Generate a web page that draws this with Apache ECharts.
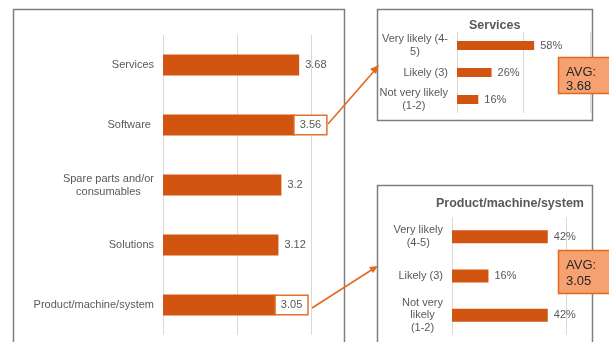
<!DOCTYPE html>
<html><head><meta charset="utf-8">
<script src="https://cdn.jsdelivr.net/npm/echarts@6/dist/echarts.min.js"></script>
<style>html,body{margin:0;padding:0;background:#fff}#c{width:609px;height:342px}</style>
</head><body><div id="c"></div>
<script>
const mainCategories = ['Services', 'Software ', 'Spare parts and/or\nconsumables', 'Solutions', 'Product/machine/system'];
const mainValues = [3.68, 3.56, 3.2, 3.12, 3.05];
const mainTicks = [0, 2, 4];
const servicesCategories = ['Very likely (4-\n5)', 'Likely (3)', 'Not very likely\n(1-2)'];
const servicesValues = [58, 26, 16];
const servicesAvg = '3.68';
const productCategories = ['Very likely\n(4-5)', 'Likely (3)', 'Not very\nlikely\n(1-2)'];
const productValues = [42, 16, 42];
const productAvg = '3.05';

const BAR = '#D25411';
const TXT = '#595959';
const FONT = 'Liberation Sans, Arial, sans-serif';
const chart = echarts.init(document.getElementById('c'), null, {renderer: 'canvas'});

const boxed = {show: true, position: 'right', distance: 0, color: TXT, fontSize: 11, fontFamily: FONT,
  borderColor: '#E0712E', borderWidth: 1.5, backgroundColor: '#fff', padding: [4, 5, 3, 5]};

function catAxis(gi, cats, lh) {
  return {type: 'category', gridIndex: gi, data: cats, inverse: true,
    axisLine: {show: false}, axisTick: {show: false},
    axisLabel: {color: TXT, fontSize: 11, fontFamily: FONT, margin: 9, align: 'right',
      formatter: v => v.split('\n').map(l => '{c|' + l + '}').join('\n'),
      rich: {c: {align: 'center', color: TXT, fontSize: 11, fontFamily: FONT, lineHeight: lh}}}};
}
function valAxis(gi, max, interval) {
  return {type: 'value', gridIndex: gi, min: 0, max: max, interval: interval,
    axisLabel: {show: false}, axisLine: {show: false}, axisTick: {show: false},
    splitLine: {show: true, lineStyle: {color: '#D9D9D9', width: 1}}};
}

chart.setOption({
  animation: false,
  textStyle: {fontFamily: FONT},
  grid: [
    {left: 163, right: 298, top: 35, bottom: 7},
    {left: 457, right: 19, top: 32, bottom: 229},
    {left: 452, right: 43, top: 217, bottom: 7}
  ],
  xAxis: [valAxis(0, 4, 2), valAxis(1, 100, 50), valAxis(2, 50, 50)],
  yAxis: [catAxis(0, mainCategories, 13), catAxis(1, servicesCategories, 13), catAxis(2, productCategories, 12.5)],
  series: [
    {type: 'bar', xAxisIndex: 0, yAxisIndex: 0, barWidth: 21, itemStyle: {color: BAR},
      data: mainValues.map((v, i) => (i === 1 || i === 4) ? {value: v, label: boxed} : v),
      label: {show: true, position: 'right', distance: 6, color: TXT, fontSize: 11, fontFamily: FONT}},
    {type: 'bar', xAxisIndex: 1, yAxisIndex: 1, barWidth: 9, itemStyle: {color: BAR},
      data: servicesValues,
      label: {show: true, position: 'right', distance: 6, color: TXT, fontSize: 11, fontFamily: FONT, formatter: '{c}%'}},
    {type: 'bar', xAxisIndex: 2, yAxisIndex: 2, barWidth: 13, itemStyle: {color: BAR},
      data: productValues,
      label: {show: true, position: 'right', distance: 6, color: TXT, fontSize: 11, fontFamily: FONT, formatter: '{c}%'}}
  ],
  graphic: [
    {type: 'rect', shape: {x: 13.5, y: 9.5, width: 331, height: 340}, style: {fill: 'none', stroke: '#7F7F7F', lineWidth: 1.5}, z: 0},
    {type: 'rect', shape: {x: 377.5, y: 9.5, width: 215, height: 111}, style: {fill: 'none', stroke: '#7F7F7F', lineWidth: 1.5}, z: 0},
    {type: 'rect', shape: {x: 377.5, y: 185.5, width: 215, height: 170}, style: {fill: 'none', stroke: '#7F7F7F', lineWidth: 1.5}, z: 0},
    {type: 'text', left: 469, top: 19, style: {text: 'Services', font: 'bold 12.5px ' + FONT, fill: TXT}},
    {type: 'text', left: 436, top: 197, style: {text: 'Product/machine/system', font: 'bold 12.5px ' + FONT, fill: TXT}},
    {type: 'line', shape: {x1: 328, y1: 124, x2: 375, y2: 70}, style: {stroke: '#E06A1F', lineWidth: 1.6}, z: 10},
    {type: 'polygon', shape: {points: [[379, 65], [370, 69], [376, 74]]}, style: {fill: '#E06A1F'}, z: 10},
    {type: 'line', shape: {x1: 312, y1: 308, x2: 373, y2: 269}, style: {stroke: '#E06A1F', lineWidth: 1.6}, z: 10},
    {type: 'polygon', shape: {points: [[378, 266], [369, 267], [373, 273]]}, style: {fill: '#E06A1F'}, z: 10},
    {type: 'rect', shape: {x: 558.5, y: 57.5, width: 55, height: 36}, style: {fill: '#F5A170', stroke: '#E26A20', lineWidth: 1.5}, z: 20},
    {type: 'text', left: 566, top: 65, style: {text: 'AVG:\n' + servicesAvg, font: '13px ' + FONT, fill: '#262626', lineHeight: 14}, z: 21},
    {type: 'rect', shape: {x: 558.5, y: 250.5, width: 55, height: 43}, style: {fill: '#F5A170', stroke: '#E26A20', lineWidth: 1.5}, z: 20},
    {type: 'text', left: 566, top: 257, style: {text: 'AVG:\n' + productAvg, font: '13px ' + FONT, fill: '#262626', lineHeight: 16}, z: 21}
  ]
});
</script></body></html>
